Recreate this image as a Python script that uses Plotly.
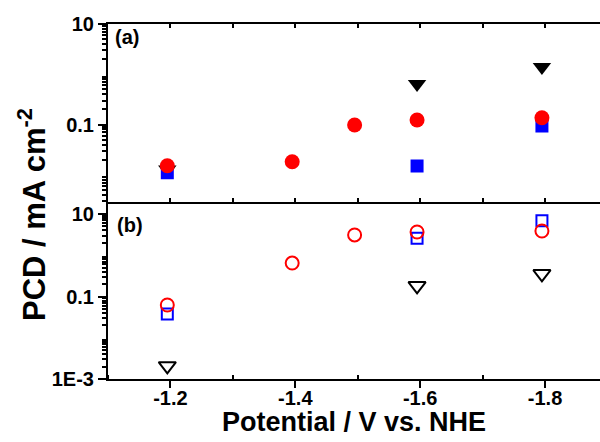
import plotly.graph_objects as go

# ---------------- data ----------------
# panel (a): filled symbols
a_tri_x = [-1.195, -1.595, -1.795]
a_tri_y = [0.0127, 0.64, 1.40]
a_sq_x = [-1.195, -1.595, -1.795]
a_sq_y = [0.011, 0.0149, 0.093]
a_circ_x = [-1.195, -1.395, -1.495, -1.595, -1.795]
a_circ_y = [0.0151, 0.0182, 0.098, 0.123, 0.136]

# panel (b): open symbols
b_tri_x = [-1.195, -1.595, -1.795]
b_tri_y = [0.00208, 0.181, 0.355]
b_sq_x = [-1.195, -1.595, -1.795]
b_sq_y = [0.0377, 2.57, 6.84]
b_circ_x = [-1.195, -1.395, -1.495, -1.595, -1.795]
b_circ_y = [0.0622, 0.648, 3.10, 3.66, 3.87]

x_tickvals = [-1.2, -1.4, -1.6, -1.8]
x_ticktext = ["-1.2", "-1.4", "-1.6", "-1.8"]
x_minorvals = [-1.1, -1.3, -1.5, -1.7]
x_allvals = [-1.1, -1.2, -1.3, -1.4, -1.5, -1.6, -1.7, -1.8]

ya_tickvals = [0.1, 10]
ya_ticktext = ["0.1", "10"]
yb_tickvals = [0.001, 0.1, 10]
yb_ticktext = ["1E-3", "0.1", "10"]
y_unlabeled_decades = [0.01, 1]
y_minorvals = [m * d for d in [0.001, 0.01, 0.1, 1] for m in range(2, 10)]

RED = "#ff0000"
BLUE = "#0000ff"
BLACK = "#000000"
FONT = "Liberation Sans"

fig = go.Figure()

# panel (a) - top (x2, y2)
fig.add_trace(go.Scatter(x=a_tri_x, y=a_tri_y, mode="markers", xaxis="x2", yaxis="y2",
                         marker=dict(symbol="triangle-down", size=16, color=BLACK, line=dict(width=0))))
fig.add_trace(go.Scatter(x=a_sq_x, y=a_sq_y, mode="markers", xaxis="x2", yaxis="y2",
                         marker=dict(symbol="square", size=13, color=BLUE, line=dict(width=0))))
fig.add_trace(go.Scatter(x=a_circ_x, y=a_circ_y, mode="markers", xaxis="x2", yaxis="y2",
                         marker=dict(symbol="circle", size=15, color=RED, line=dict(width=0))))

# panel (b) - bottom (x, y)
fig.add_trace(go.Scatter(x=b_tri_x, y=b_tri_y, mode="markers",
                         marker=dict(symbol="triangle-down-open", size=15, color=BLACK, line=dict(width=2))))
fig.add_trace(go.Scatter(x=b_sq_x, y=b_sq_y, mode="markers",
                         marker=dict(symbol="square-open", size=11, color=BLUE, line=dict(width=2))))
fig.add_trace(go.Scatter(x=b_circ_x, y=b_circ_y, mode="markers",
                         marker=dict(symbol="circle-open", size=13, color=RED, line=dict(width=2))))

tickfont = dict(family=FONT, size=20, color=BLACK, weight="bold")
xrange = [-1.1, -1.888]
ya_range = [-2.532, 1]
yb_range = [-3, 1.303]

minor_y = dict(tickvals=y_minorvals, ticks="outside", ticklen=4, tickwidth=1.5, tickcolor=BLACK, showgrid=False)

fig.update_layout(
    width=600, height=442,
    margin=dict(l=108, r=0, t=24, b=63),
    plot_bgcolor="white", paper_bgcolor="white",
    showlegend=False,
    xaxis=dict(
        domain=[0, 1], anchor="y", range=xrange,
        tickmode="array", tickvals=x_tickvals, ticktext=x_ticktext,
        ticks="outside", ticklen=7, tickwidth=2, tickcolor=BLACK,
        ticklabelstandoff=-7,
        showline=True, linewidth=2, linecolor=BLACK, mirror=False,
        showgrid=False, zeroline=False, tickfont=tickfont,
        minor=dict(tickvals=x_minorvals, ticks="inside", ticklen=4, tickwidth=1.5, tickcolor=BLACK, showgrid=False),
    ),
    xaxis2=dict(
        domain=[0, 1], anchor="y2", range=xrange, matches="x",
        tickmode="array", tickvals=x_allvals, showticklabels=False,
        ticks="inside", ticklen=4, tickwidth=1.5, tickcolor=BLACK,
        showline=True, linewidth=2, linecolor=BLACK, mirror="allticks",
        showgrid=False, zeroline=False,
    ),
    yaxis=dict(
        domain=[0, 0.5], anchor="x", type="log", range=yb_range,
        tickmode="array", tickvals=yb_tickvals, ticktext=yb_ticktext,
        ticks="outside", ticklen=8, tickwidth=2, tickcolor=BLACK,
        showline=True, linewidth=2, linecolor=BLACK, mirror=False,
        showgrid=False, zeroline=False, tickfont=tickfont, minor=minor_y,
    ),
    yaxis2=dict(
        domain=[0.5, 1], anchor="x2", type="log", range=ya_range,
        tickmode="array", tickvals=ya_tickvals, ticktext=ya_ticktext,
        ticks="outside", ticklen=8, tickwidth=2, tickcolor=BLACK,
        showline=True, linewidth=2, linecolor=BLACK, mirror=False,
        showgrid=False, zeroline=False, tickfont=tickfont, minor=minor_y,
    ),
    # unlabeled decade ticks (long ticks, no labels)
    yaxis3=dict(
        overlaying="y", anchor="x", side="left", type="log", range=yb_range,
        tickmode="array", tickvals=y_unlabeled_decades, showticklabels=False,
        ticks="outside", ticklen=8, tickwidth=2, tickcolor=BLACK,
        showline=False, showgrid=False, zeroline=False,
    ),
    yaxis4=dict(
        overlaying="y2", anchor="x2", side="left", type="log", range=ya_range,
        tickmode="array", tickvals=y_unlabeled_decades, showticklabels=False,
        ticks="outside", ticklen=8, tickwidth=2, tickcolor=BLACK,
        showline=False, showgrid=False, zeroline=False,
    ),
)

annot_font = dict(family=FONT, color=BLACK, weight="bold")
fig.add_annotation(text="(a)", xref="paper", yref="paper", x=0.0386, y=0.962,
                   xanchor="center", yanchor="middle", showarrow=False,
                   font=dict(**annot_font, size=20))
fig.add_annotation(text="(b)", xref="paper", yref="paper", x=0.0447, y=0.434,
                   xanchor="center", yanchor="middle", showarrow=False,
                   font=dict(**annot_font, size=20))
fig.add_annotation(text="Potential / V vs. NHE", xref="paper", yref="paper", x=0.5, y=-0.1225,
                   xanchor="center", yanchor="middle", showarrow=False,
                   font=dict(**annot_font, size=27))
fig.add_annotation(text="PCD / mA cm<sup>-2</sup>", xref="paper", yref="paper", x=-0.1545, y=0.4648,
                   xanchor="center", yanchor="middle", textangle=-90, showarrow=False,
                   font=dict(**annot_font, size=31))

fig.write_html("out.html")
